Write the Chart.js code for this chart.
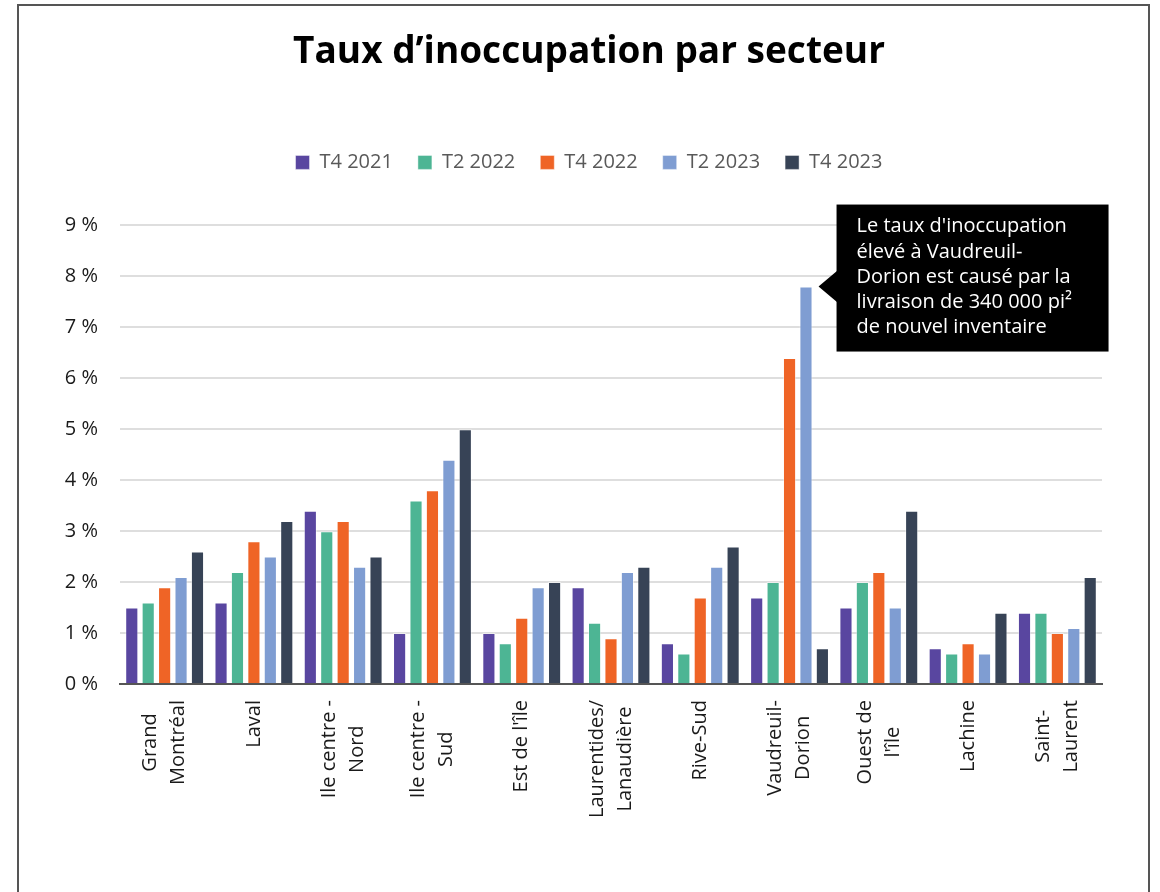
<!DOCTYPE html>
<html>
<head>
<meta charset="utf-8">
<script src="https://cdn.jsdelivr.net/npm/chart.js@4"></script>
<style>
  body { margin: 0; background: #fff; }
  #wrap { position: relative; width: 1160px; height: 892px; }
  #frame { position: absolute; left: 17px; top: 4px; width: 1129px; height: 900px;
           border: 2px solid #555; border-bottom: none; pointer-events: none; }
</style>
</head>
<body>
<div id="wrap">
  <canvas id="chart" width="1160" height="892"></canvas>
  <div id="frame"></div>
</div>
<script>
  // secteurs (une ligne par ligne de texte de l'étiquette)
  var secteurs = [
    ['Grand', 'Montréal'], ['Laval'], ['Ile centre -', 'Nord'], ['Ile centre -', 'Sud'],
    ["Est de l'île"], ['Laurentides/', 'Lanaudière'], ['Rive-Sud'], ['Vaudreuil-', 'Dorion'],
    ['Ouest de', "l'île"], ['Lachine'], ['Saint-', 'Laurent']
  ];
  var periodes = ['T4 2021', 'T2 2022', 'T4 2022', 'T2 2023', 'T4 2023'];
  var couleurs = ['#5946a0', '#4db594', '#ef6426', '#7f9dd2', '#374356'];

  // taux d'inoccupation (%)
  var t4_2021 = [1.5, 1.6, 3.4, 1.0, 1.0, 1.9, 0.8, 1.7, 1.5, 0.7, 1.4];
  var t2_2022 = [1.6, 2.2, 3.0, 3.6, 0.8, 1.2, 0.6, 2.0, 2.0, 0.6, 1.4];
  var t4_2022 = [1.9, 2.8, 3.2, 3.8, 1.3, 0.9, 1.7, 6.4, 2.2, 0.8, 1.0];
  var t2_2023 = [2.1, 2.5, 2.3, 4.4, 1.9, 2.2, 2.3, 7.8, 1.5, 0.6, 1.1];
  var t4_2023 = [2.6, 3.2, 2.5, 5.0, 2.0, 2.3, 2.7, 0.7, 3.4, 1.4, 2.1];
  var series = [t4_2021, t2_2022, t4_2022, t2_2023, t4_2023];

  var yTicks = [0, 1, 2, 3, 4, 5, 6, 7, 8, 9];

  var noteLines = [
    "Le taux d'inoccupation",
    'élevé à Vaudreuil-',
    'Dorion est causé par la',
    'livraison de 340 000 pi²',
    'de nouvel inventaire'
  ];
  var noteSecteur = 7;   // Vaudreuil-Dorion
  var noteSerie = 3;     // T2 2023

  var FONT = "'Open Sans', sans-serif";

  // étiquettes de l'axe x, tournées, lignes centrées
  var xLabels = {
    id: 'xLabels',
    afterDraw: function(chart) {
      var ctx = chart.ctx, sx = chart.scales.x;
      ctx.save();
      ctx.font = '20px ' + FONT;
      ctx.fillStyle = '#1a1a1a';
      ctx.textAlign = 'center';
      ctx.textBaseline = 'middle';
      secteurs.forEach(function(lines, i) {
        var px = sx.getPixelForTick(i);
        var maxW = 0;
        lines.forEach(function(l) { maxW = Math.max(maxW, ctx.measureText(l).width); });
        var yc = sx.top + 16 + maxW / 2;
        lines.forEach(function(l, j) {
          var x = px + (j - (lines.length - 1) / 2) * 28;
          ctx.save();
          ctx.translate(x, yc);
          ctx.rotate(-Math.PI / 2);
          ctx.fillText(l, 0, 0);
          ctx.restore();
        });
      });
      ctx.restore();
    }
  };

  // bulle noire à côté de la barre T2 2023 de Vaudreuil-Dorion
  var note = {
    id: 'note',
    afterDraw: function(chart) {
      var bar = chart.getDatasetMeta(noteSerie).data[noteSecteur];
      var ctx = chart.ctx;
      var tipX = bar.x + bar.width / 2 + 6, tipY = bar.y;
      var left = tipX + 18, top = tipY - 82, w = 272, h = 147;
      ctx.save();
      ctx.fillStyle = '#000';
      ctx.fillRect(left, top, w, h);
      ctx.beginPath();
      ctx.moveTo(tipX, tipY);
      ctx.lineTo(left + 1, tipY - 16);
      ctx.lineTo(left + 1, tipY + 16);
      ctx.closePath();
      ctx.fill();
      ctx.fillStyle = '#fff';
      ctx.font = '20px ' + FONT;
      ctx.textAlign = 'left';
      ctx.textBaseline = 'middle';
      noteLines.forEach(function(l, i) {
        ctx.fillText(l, left + 20, top + 22 + i * 25.3);
      });
      ctx.restore();
    }
  };

  var legendSpace = {
    id: 'legendSpace',
    beforeInit: function(chart) {
      var fit = chart.legend.fit;
      chart.legend.fit = function() {
        fit.call(this);
        this.height = 98;
      };
    },
    // titre et légende centrés un peu plus à droite, comme l'original
    afterLayout: function(chart) {
      chart.titleBlock.left += 33;
      chart.legend.left += 33;
    }
  };

  new Chart(document.getElementById('chart').getContext('2d'), {
    type: 'bar',
    data: {
      labels: secteurs.map(function(s) { return s.join(' '); }),
      datasets: periodes.map(function(p, i) {
        return {
          label: p,
          data: series[i],
          backgroundColor: couleurs[i],
          borderColor: 'rgba(255,255,255,0.45)',
          borderWidth: 1,
          barPercentage: 0.8,
          categoryPercentage: 0.92
        };
      })
    },
    options: {
      responsive: false,
      animation: false,
      layout: { padding: { left: 43, right: 58, top: 0, bottom: 68 } },
      plugins: {
        title: {
          display: true,
          text: 'Taux d’inoccupation par secteur',
          color: '#000',
          font: { family: FONT, size: 37, weight: 'bold' },
          padding: { top: 30, bottom: 53 }
        },
        legend: {
          position: 'top',
          labels: {
            color: '#595959',
            font: { family: FONT, size: 20 },
            boxWidth: 14,
            boxHeight: 14,
            padding: 25
          }
        },
        tooltip: { enabled: false }
      },
      scales: {
        x: {
          grid: { display: false },
          border: { display: true, color: '#555', width: 2 },
          ticks: { display: false },
          afterFit: function(scale) { scale.height = 140; }
        },
        y: {
          min: 0,
          max: 9,
          afterBuildTicks: function(scale) {
            scale.ticks = yTicks.map(function(v) { return { value: v }; });
          },
          afterFit: function(scale) { scale.width = 77; },
          grid: {
            drawTicks: false,
            color: function(c) { return c.tick && c.tick.value === 0 ? 'rgba(0,0,0,0)' : '#dedede'; },
            lineWidth: 2
          },
          border: { display: false },
          ticks: {
            color: '#1a1a1a',
            padding: 22,
            font: { family: FONT, size: 20 },
            callback: function(v) { return v + ' %'; }
          }
        }
      }
    },
    plugins: [legendSpace, xLabels, note]
  });
</script>
</body>
</html>
